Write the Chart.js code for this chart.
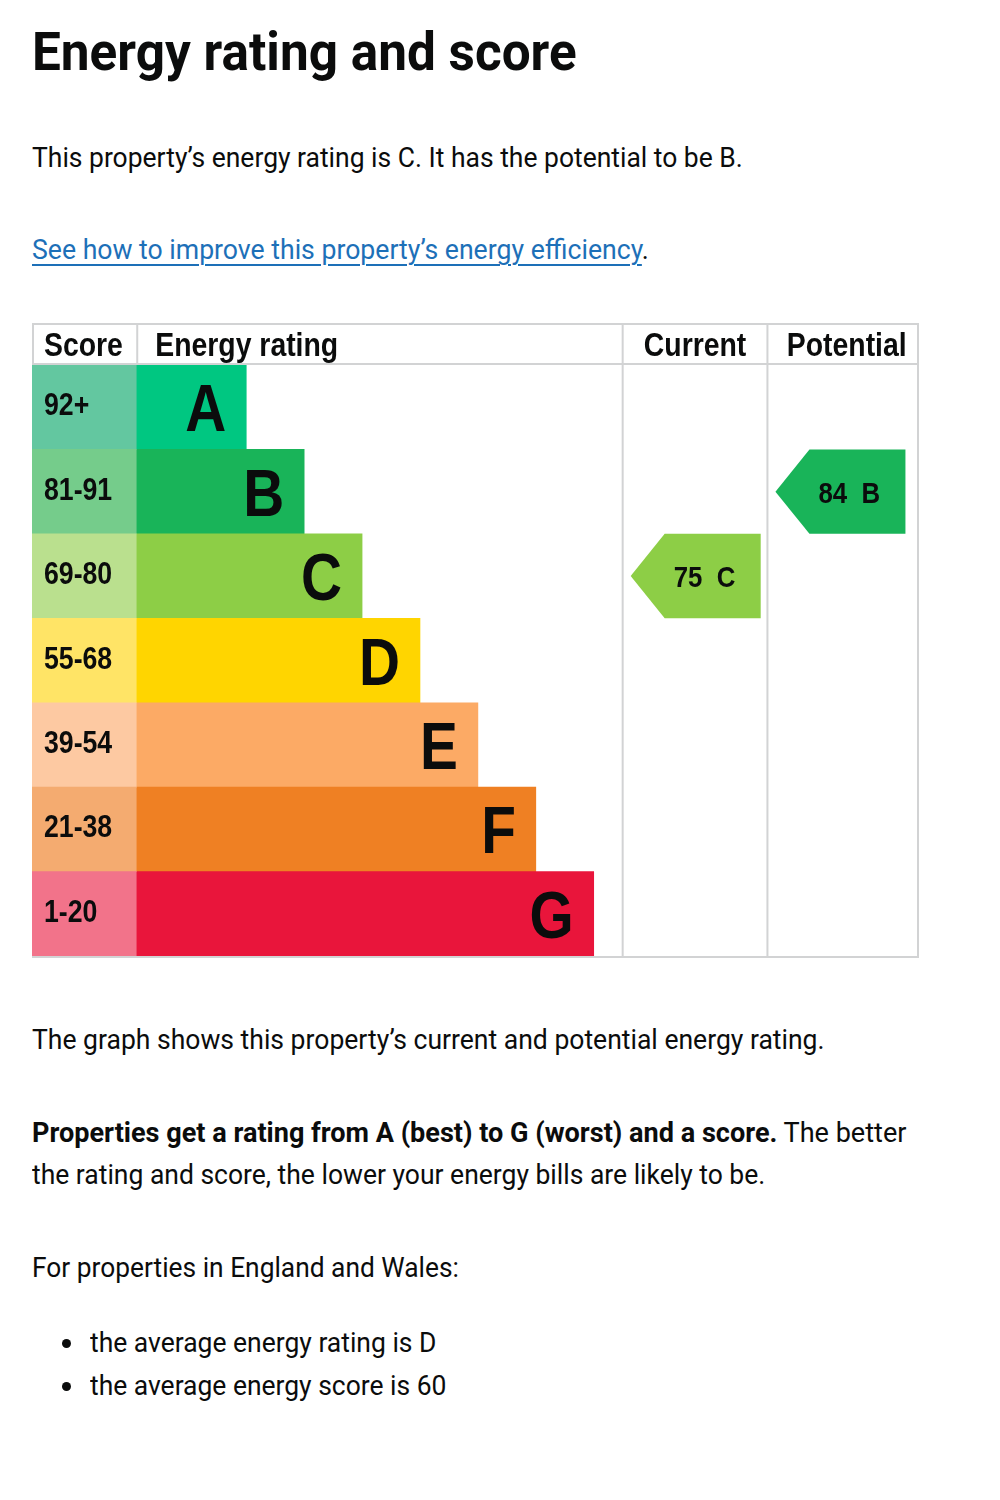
<!DOCTYPE html>
<html>
<head>
<meta charset="utf-8">
<script src="https://cdn.jsdelivr.net/npm/chart.js@4.4.1/dist/chart.umd.min.js"></script>
<style>
  body { margin: 0; background: #fff; color: #0b0c0c; font-family: Roboto, "Noto Sans", sans-serif; }
  #page { position: relative; width: 1000px; height: 1500px; overflow: hidden; }
  .t { position: absolute; left: 32px; white-space: nowrap; transform-origin: 0 0; line-height: 1; font-size: 28px; }
  .t a { color: #1d70b8; text-decoration: underline; text-decoration-thickness: 2px; text-underline-offset: 5px; }
  .dot { position: absolute; left: 62px; width: 9px; height: 9px; border-radius: 50%; background: #0b0c0c; }
  #epc { position: absolute; left: 30px; top: 322px; }
</style>
</head>
<body>
<div id="page">
  <div class="t" style="top:26px;font-size:53px;font-weight:700" data-w="545">Energy rating and score</div>
  <div class="t" style="top:144px" data-w="711">This property’s energy rating is C. It has the potential to be B.</div>
  <div class="t" style="top:236px" data-w="617"><a>See how to improve this property’s energy efficiency</a>.</div>

  <canvas id="epc" width="892" height="638"></canvas>

  <div class="t" style="top:1026px" data-w="793">The graph shows this property’s current and potential energy rating.</div>
  <div class="t" style="top:1119px" data-w="874"><b>Properties get a rating from A (best) to G (worst) and a score.</b> The better</div>
  <div class="t" style="top:1161px" data-w="733">the rating and score, the lower your energy bills are likely to be.</div>
  <div class="t" style="top:1254px" data-w="427">For properties in England and Wales:</div>
  <div class="dot" style="top:1339px"></div>
  <div class="t" style="top:1329px;left:90px" data-w="346">the average energy rating is D</div>
  <div class="dot" style="top:1382px"></div>
  <div class="t" style="top:1372px;left:90px" data-w="356">the average energy score is 60</div>
</div>

<script>
// rating bands, top (best) to bottom (worst)
const bands = ['A', 'B', 'C', 'D', 'E', 'F', 'G'];
const scoreRanges = ['92+', '81-91', '69-80', '55-68', '39-54', '21-38', '1-20'];
const bandMinScores = [92, 81, 69, 55, 39, 21, 1];
const barLengths = [1.9, 2.9, 3.9, 4.9, 5.9, 6.9, 7.9];
const bandColors = ['#00c781', '#19b459', '#8dce46', '#ffd500', '#fcaa65', '#ef8023', '#e9153b'];
const scoreColors = ['#63c7a0', '#75cc8b', '#bae08e', '#ffe466', '#fdc9a2', '#f4ab70', '#f2738a'];
const currentScore = 75;
const potentialScore = 84;

// table columns, in x-axis units
const scoreCol = [-1.8, 0];
const currentCol = [8.4, 10.9];
const potentialCol = [10.9, 13.5];
const headerHeight = 42;

const bandFor = score => bandMinScores.findIndex(m => score >= m);

function squeezedText(ctx, text, x, y, align) {
    ctx.save();
    ctx.translate(x, y);
    ctx.scale(0.86, 1);
    ctx.textAlign = align;
    ctx.fillText(text, 0, 0);
    ctx.restore();
}

const epcPlugin = {
    id: 'epc',
    beforeDatasetsDraw(chart) {
        const { ctx, chartArea: a, scales: { x } } = chart;
        const top = a.top - headerHeight;
        ctx.save();
        ctx.strokeStyle = '#d2d3d4';
        ctx.lineWidth = 2;
        ctx.beginPath();
        // full height column lines
        [currentCol[0], potentialCol[0], potentialCol[1]].forEach(v => {
            const px = x.getPixelForValue(v);
            ctx.moveTo(px, top);
            ctx.lineTo(px, a.bottom + 1);
        });
        // header only lines
        [scoreCol[0], scoreCol[1]].forEach(v => {
            const px = x.getPixelForValue(v) + 1;
            ctx.moveTo(px, top);
            ctx.lineTo(px, a.top);
        });
        const left = x.getPixelForValue(scoreCol[0]);
        const right = x.getPixelForValue(potentialCol[1]) + 1;
        [top + 1, a.top - 1, a.bottom + 1].forEach(py => {
            ctx.moveTo(left, py);
            ctx.lineTo(right, py);
        });
        ctx.stroke();
        ctx.restore();
    },
    afterDatasetsDraw(chart) {
        const { ctx, chartArea: a, scales: { x, y } } = chart;
        const rowH = y.getPixelForValue(1) - y.getPixelForValue(0);
        ctx.save();
        ctx.fillStyle = '#0b0c0c';
        ctx.textBaseline = 'alphabetic';

        // header
        ctx.font = 'bold 33px "Liberation Sans", Arial, sans-serif';
        const hy = a.top - 9;
        squeezedText(ctx, 'Score', x.getPixelForValue(scoreCol[0]) + 12, hy, 'left');
        squeezedText(ctx, 'Energy rating', x.getPixelForValue(0) + 19, hy, 'left');
        squeezedText(ctx, 'Current', x.getPixelForValue((currentCol[0] + currentCol[1]) / 2), hy, 'center');
        squeezedText(ctx, 'Potential', x.getPixelForValue((potentialCol[0] + potentialCol[1]) / 2) + 4, hy, 'center');

        // score ranges and band letters
        bands.forEach((b, i) => {
            const cy = y.getPixelForValue(i);
            ctx.font = 'bold 31px "Liberation Sans", Arial, sans-serif';
            squeezedText(ctx, scoreRanges[i], x.getPixelForValue(scoreCol[0]) + 12, cy + 8, 'left');
            ctx.font = 'bold 66px "Liberation Sans", Arial, sans-serif';
            squeezedText(ctx, b, x.getPixelForValue(barLengths[i]) - 20, cy + 24, 'right');
        });

        // current / potential arrows
        const arrow = (score, col) => {
            const i = bandFor(score);
            const cy = y.getPixelForValue(i);
            const h = rowH / 2;
            const tip = x.getPixelForValue(col[0]) + 8;
            const shoulder = tip + 34;
            const end = tip + 130;
            ctx.fillStyle = bandColors[i];
            ctx.beginPath();
            ctx.moveTo(tip, cy);
            ctx.lineTo(shoulder, cy - h);
            ctx.lineTo(end, cy - h);
            ctx.lineTo(end, cy + h);
            ctx.lineTo(shoulder, cy + h);
            ctx.closePath();
            ctx.fill();
            ctx.fillStyle = '#0b0c0c';
            ctx.font = 'bold 30px "Liberation Sans", Arial, sans-serif';
            squeezedText(ctx, score + '  ' + bands[i], tip + 43, cy + 11, 'left');
        };
        arrow(currentScore, currentCol);
        arrow(potentialScore, potentialCol);
        ctx.restore();
    }
};

new Chart(document.getElementById('epc'), {
    type: 'bar',
    data: {
        labels: bands,
        datasets: [
            {
                label: 'Score',
                data: bands.map(() => [scoreCol[0], scoreCol[1]]),
                backgroundColor: scoreColors,
                grouped: false
            },
            {
                label: 'Energy rating',
                data: barLengths.map(v => [0, v]),
                backgroundColor: bandColors,
                grouped: false
            }
        ]
    },
    options: {
        indexAxis: 'y',
        responsive: false,
        animation: false,
        layout: { padding: { left: 2, right: 4, top: headerHeight + 1, bottom: 4 } },
        datasets: { bar: { barPercentage: 1, categoryPercentage: 1, borderWidth: 0 } },
        scales: {
            x: { type: 'linear', min: scoreCol[0], max: potentialCol[1], display: false },
            y: { display: false }
        },
        plugins: { legend: { display: false }, tooltip: { enabled: false } }
    },
    plugins: [epcPlugin]
});

// squeeze each text line to the width it has in the picture
function fitLines() {
    document.querySelectorAll('.t').forEach(el => {
        el.style.transform = 'none';
        const w = el.offsetWidth;
        el.style.transform = 'scaleX(' + (el.dataset.w / w) + ')';
    });
}
fitLines();
if (document.fonts) document.fonts.ready.then(fitLines);
</script>
</body>
</html>
